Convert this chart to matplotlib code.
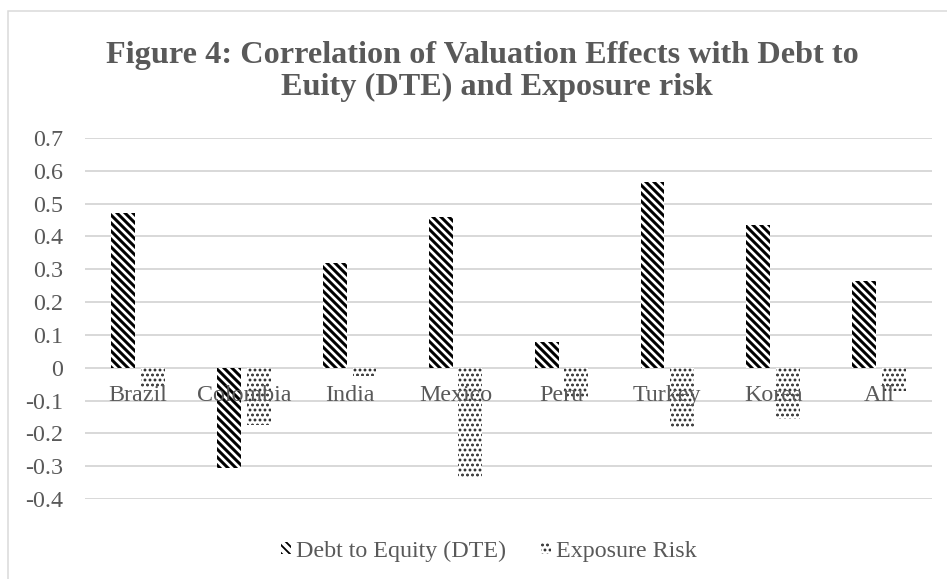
import matplotlib
matplotlib.use("Agg")
import matplotlib.pyplot as plt
import numpy as np
from matplotlib.patches import Rectangle

categories = ["Brazil", "Colombia", "India", "Mexico", "Peru", "Turkey", "Korea", "All"]
dte = [0.47, -0.305, 0.32, 0.46, 0.077, 0.567, 0.435, 0.265]
exposure = [-0.06, -0.174, -0.025, -0.333, -0.09, -0.183, -0.157, -0.07]
yticks = [0.7, 0.6, 0.5, 0.4, 0.3, 0.2, 0.1, 0, -0.1, -0.2, -0.3, -0.4]
ytick_labels = ["0.7", "0.6", "0.5", "0.4", "0.3", "0.2", "0.1", "0", "-0.1", "-0.2", "-0.3", "-0.4"]
series_names = ["Debt to Equity (DTE)", "Exposure Risk"]
title1 = "Figure 4: Correlation of Valuation Effects with Debt to"
title2 = "Euity (DTE) and Exposure risk"

DPI = 120
W, H = 947, 579
plt.rcParams['font.family'] = ['Liberation Serif', 'DejaVu Serif']
TXT = '#595959'
GRID = '#d9d9d9'

def px(p):
    return p * 72.0 / DPI

fig = plt.figure(figsize=(W / DPI, H / DPI), dpi=DPI)
fig.patch.set_facecolor('white')
# chart border
fig.patches.append(Rectangle((8 / W, -0.1), 1.2, 1 - 11 / H + 0.1, transform=fig.transFigure,
                             fill=False, edgecolor=GRID, linewidth=px(1.5), zorder=0))

left, right = 85 / W, 932 / W
bottom, top = 1 - 499 / H, 1 - 138 / H
ax = fig.add_axes([left, bottom, right - left, top - bottom])

x = np.arange(len(categories))
bw = 0.225
off = 0.14
plt.rcParams['hatch.linewidth'] = 1.8
ax.bar(x - off, dte, bw, color='white', edgecolor='black', hatch='\\' * 5, linewidth=0,
       label=series_names[0], zorder=3)
plt.rcParams['hatch.linewidth'] = 1.1
ax.bar(x + off, exposure, bw, color='white', edgecolor='#222222', hatch='....', linewidth=0,
       label=series_names[1], zorder=3)

ax.set_xlim(-0.5, len(categories) - 0.5)
ax.set_ylim(-0.4, 0.7)
ax.set_yticks(yticks)
ax.set_yticklabels(ytick_labels)
ax.yaxis.grid(True, color=GRID, linewidth=px(2), zorder=0)
ax.set_axisbelow(True)
for s in ax.spines.values():
    s.set_visible(False)
ax.spines['bottom'].set_position(('data', 0))
ax.set_xticks(x)
ax.set_xticklabels(categories)
ax.tick_params(axis='both', length=0, colors=TXT, labelsize=px(24))
ax.tick_params(axis='y', pad=px(22))
ax.tick_params(axis='x', pad=px(17))
ax.xaxis.set_zorder(5)

fig.text(482 / W, 1 - 63 / H, title1, ha='center', va='baseline', fontsize=px(32.2),
         fontweight='bold', color=TXT)
fig.text(497 / W, 1 - 95 / H, title2, ha='center', va='baseline', fontsize=px(32.2),
         fontweight='bold', color=TXT)

leg = fig.legend(loc='center', bbox_to_anchor=(489 / W, 1 - 551 / H), ncol=2, frameon=False,
                 fontsize=px(24), handlelength=0.42, handleheight=0.42, handletextpad=0.2,
                 columnspacing=1.45, borderpad=0)
for t in leg.get_texts():
    t.set_color(TXT)

fig.savefig('out.png', dpi=DPI)
